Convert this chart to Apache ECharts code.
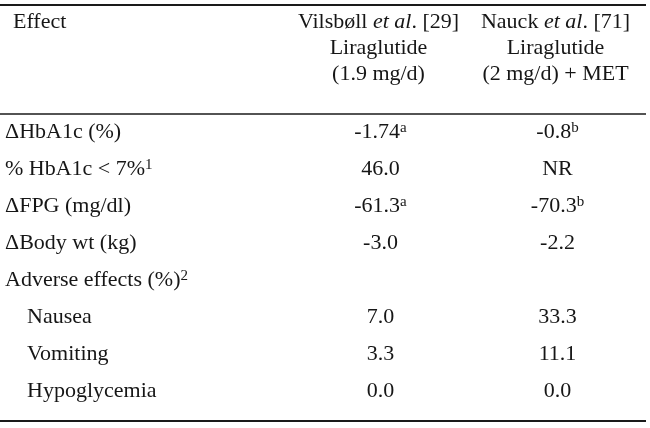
<!DOCTYPE html>
<html>
<head>
<meta charset="utf-8">
<script src="https://cdn.jsdelivr.net/npm/echarts@6/dist/echarts.min.js"></script>
<style>html,body{margin:0;padding:0;background:#fff}#c{width:650px;height:428px}</style>
</head>
<body>
<div id="c"></div>
<script>
// ---- data ----
const headerLabel = 'Effect';
const columnAuthors = ['Vilsbøll', 'Nauck'];
const columnRefs = ['[29]', '[71]'];
const columnDrugs = ['Liraglutide', 'Liraglutide'];
const columnDoses = ['(1.9 mg/d)', '(2 mg/d) + MET'];
const rowLabels = ['ΔHbA1c (%)', '% HbA1c < 7%', 'ΔFPG (mg/dl)', 'ΔBody wt (kg)', 'Adverse effects (%)', '\u2003Nausea', '\u2003Vomiting', '\u2003Hypoglycemia'];
const rowNotes = ['', '1', '', '', '2', '', '', ''];
const col1Values = ['-1.74', '46.0', '-61.3', '-3.0', '', '7.0', '3.3', '0.0'];
const col1Notes = ['a', '', 'a', '', '', '', '', ''];
const col2Values = ['-0.8', 'NR', '-70.3', '-2.2', '', '33.3', '11.1', '0.0'];
const col2Notes = ['b', '', 'b', '', '', '', '', ''];

const FONT = '"Liberation Serif", "Times New Roman", serif';
const FS = 22;
const COLOR = '#161616';
const supStyle = { fontSize: 15, fontFamily: FONT, color: COLOR, verticalAlign: 'top', lineHeight: 22 };

function cell(v, n) {
  if (!v) return '';
  return n ? v + '{s|' + n + '}' : v;
}
function valueSeries(colIdx, values, notes, offsetX) {
  return {
    type: 'scatter',
    symbolSize: 0,
    silent: true,
    itemStyle: { opacity: 1 },
    data: values.map((v, i) => [colIdx, i]),
    label: {
      show: true,
      position: 'inside',
      offset: [offsetX, 0],
      fontFamily: FONT,
      fontSize: FS,
      color: COLOR,
      opacity: 1,
      lineHeight: 24,
      formatter: p => cell(values[p.dataIndex], notes[p.dataIndex]),
      rich: { s: supStyle }
    }
  };
}

const chart = echarts.init(document.getElementById('c'), null, { renderer: 'canvas' });
chart.setOption({
  animation: false,
  backgroundColor: '#fff',
  title: {
    text: headerLabel,
    left: 13,
    top: 9,
    padding: 0,
    textStyle: { fontFamily: FONT, fontSize: FS, fontWeight: 'normal', color: COLOR, lineHeight: 26 }
  },
  grid: { left: 290, width: 354, top: 114, height: 296 },
  xAxis: {
    type: 'category',
    position: 'top',
    data: columnAuthors,
    axisLine: { show: false },
    axisTick: { show: false },
    splitLine: { show: false },
    axisLabel: {
      interval: 0,
      margin: 27,
      fontFamily: FONT,
      fontSize: FS,
      color: COLOR,
      lineHeight: 26,
      formatter: (v, i) => v + ' {i|et al}. ' + columnRefs[i] + '\n' + columnDrugs[i] + '\n' + columnDoses[i],
      rich: { i: { fontStyle: 'italic', fontFamily: FONT, fontSize: FS, color: COLOR, lineHeight: 26 } }
    }
  },
  yAxis: {
    type: 'category',
    inverse: true,
    data: rowLabels,
    axisLine: { show: false },
    axisTick: { show: false },
    splitLine: { show: false },
    axisLabel: {
      interval: 0,
      align: 'left',
      margin: 285,
      fontFamily: FONT,
      fontSize: FS,
      color: COLOR,
      lineHeight: 24,
      formatter: (v, i) => cell(v, rowNotes[i]),
      rich: { s: supStyle }
    }
  },
  graphic: [
    { type: 'line', shape: { x1: 0, y1: 5, x2: 646, y2: 5 }, style: { stroke: '#1a1a1a', lineWidth: 2 } },
    { type: 'line', shape: { x1: 0, y1: 114, x2: 646, y2: 114 }, style: { stroke: '#1a1a1a', lineWidth: 1.5 } },
    { type: 'line', shape: { x1: 0, y1: 421, x2: 646, y2: 421 }, style: { stroke: '#1a1a1a', lineWidth: 2 } }
  ],
  series: [
    valueSeries(0, col1Values, col1Notes, 2),
    valueSeries(1, col2Values, col2Notes, 2)
  ]
});
</script>
</body>
</html>
